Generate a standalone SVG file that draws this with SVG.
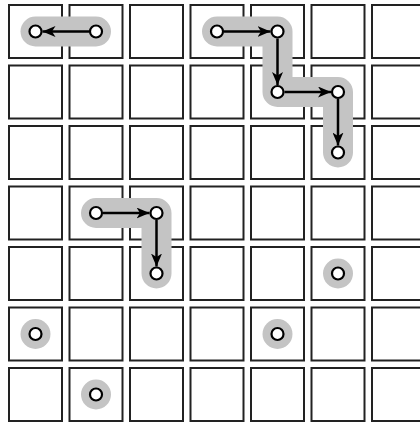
<svg xmlns="http://www.w3.org/2000/svg" width="420" height="426" viewBox="0 0 420 426">
<defs>
<style>
.cell{fill:#fff;stroke:#222;stroke-width:2}
.halo{fill:none;stroke:#c4c4c4;stroke-width:30;stroke-linecap:round;stroke-linejoin:round}
.dot{fill:#fff;stroke:#000;stroke-width:2.2}
.edge{fill:none;stroke:#000;stroke-width:2.5;marker-end:url(#arr)}
</style>
<marker id="arr" markerUnits="userSpaceOnUse" markerWidth="13" markerHeight="11" viewBox="0 0 13 11" refX="13" refY="5.5" orient="auto">
<path d="M0,0 L13,5.5 L0,11 L3.5,5.5 z" fill="#000"/>
</marker>
</defs>
<rect width="420" height="426" fill="#fff"/>
<g id="grid">
<rect class="cell" x="9" y="5" width="53" height="53"/><rect class="cell" x="69.5" y="5" width="53" height="53"/><rect class="cell" x="130" y="5" width="53" height="53"/><rect class="cell" x="190.5" y="5" width="53" height="53"/><rect class="cell" x="251" y="5" width="53" height="53"/><rect class="cell" x="311.5" y="5" width="53" height="53"/><rect class="cell" x="372" y="5" width="53" height="53"/>
<rect class="cell" x="9" y="65.5" width="53" height="53"/><rect class="cell" x="69.5" y="65.5" width="53" height="53"/><rect class="cell" x="130" y="65.5" width="53" height="53"/><rect class="cell" x="190.5" y="65.5" width="53" height="53"/><rect class="cell" x="251" y="65.5" width="53" height="53"/><rect class="cell" x="311.5" y="65.5" width="53" height="53"/><rect class="cell" x="372" y="65.5" width="53" height="53"/>
<rect class="cell" x="9" y="126" width="53" height="53"/><rect class="cell" x="69.5" y="126" width="53" height="53"/><rect class="cell" x="130" y="126" width="53" height="53"/><rect class="cell" x="190.5" y="126" width="53" height="53"/><rect class="cell" x="251" y="126" width="53" height="53"/><rect class="cell" x="311.5" y="126" width="53" height="53"/><rect class="cell" x="372" y="126" width="53" height="53"/>
<rect class="cell" x="9" y="186.5" width="53" height="53"/><rect class="cell" x="69.5" y="186.5" width="53" height="53"/><rect class="cell" x="130" y="186.5" width="53" height="53"/><rect class="cell" x="190.5" y="186.5" width="53" height="53"/><rect class="cell" x="251" y="186.5" width="53" height="53"/><rect class="cell" x="311.5" y="186.5" width="53" height="53"/><rect class="cell" x="372" y="186.5" width="53" height="53"/>
<rect class="cell" x="9" y="247" width="53" height="53"/><rect class="cell" x="69.5" y="247" width="53" height="53"/><rect class="cell" x="130" y="247" width="53" height="53"/><rect class="cell" x="190.5" y="247" width="53" height="53"/><rect class="cell" x="251" y="247" width="53" height="53"/><rect class="cell" x="311.5" y="247" width="53" height="53"/><rect class="cell" x="372" y="247" width="53" height="53"/>
<rect class="cell" x="9" y="307.5" width="53" height="53"/><rect class="cell" x="69.5" y="307.5" width="53" height="53"/><rect class="cell" x="130" y="307.5" width="53" height="53"/><rect class="cell" x="190.5" y="307.5" width="53" height="53"/><rect class="cell" x="251" y="307.5" width="53" height="53"/><rect class="cell" x="311.5" y="307.5" width="53" height="53"/><rect class="cell" x="372" y="307.5" width="53" height="53"/>
<rect class="cell" x="9" y="368" width="53" height="53"/><rect class="cell" x="69.5" y="368" width="53" height="53"/><rect class="cell" x="130" y="368" width="53" height="53"/><rect class="cell" x="190.5" y="368" width="53" height="53"/><rect class="cell" x="251" y="368" width="53" height="53"/><rect class="cell" x="311.5" y="368" width="53" height="53"/><rect class="cell" x="372" y="368" width="53" height="53"/>
</g>
<g id="highlights">
<polyline class="halo" points="35.5,31.5 96,31.5"/>
<polyline class="halo" points="217,31.5 277.5,31.5 277.5,92 338,92 338,152.5"/>
<polyline class="halo" points="96,213 156.5,213 156.5,273.5"/>
<polyline class="halo" points="338,273.5 338,273.5"/>
<polyline class="halo" points="35.5,334 35.5,334"/>
<polyline class="halo" points="277.5,334 277.5,334"/>
<polyline class="halo" points="96,394.5 96,394.5"/>
</g>
<g id="connectors">
<line class="edge" x1="89" y1="31.5" x2="42.5" y2="31.5"/>
<line class="edge" x1="224" y1="31.5" x2="270.5" y2="31.5"/>
<line class="edge" x1="277.5" y1="38.5" x2="277.5" y2="85"/>
<line class="edge" x1="284.5" y1="92" x2="331" y2="92"/>
<line class="edge" x1="338" y1="99" x2="338" y2="145.5"/>
<line class="edge" x1="103" y1="213" x2="149.5" y2="213"/>
<line class="edge" x1="156.5" y1="220" x2="156.5" y2="266.5"/>
</g>
<g id="n1"><circle class="dot" cx="35.5" cy="31.5" r="6"/></g>
<g id="n2"><circle class="dot" cx="96" cy="31.5" r="6"/></g>
<g id="n3"><circle class="dot" cx="217" cy="31.5" r="6"/></g>
<g id="n4"><circle class="dot" cx="277.5" cy="31.5" r="6"/></g>
<g id="n5"><circle class="dot" cx="277.5" cy="92" r="6"/></g>
<g id="n6"><circle class="dot" cx="338" cy="92" r="6"/></g>
<g id="n7"><circle class="dot" cx="338" cy="152.5" r="6"/></g>
<g id="n8"><circle class="dot" cx="96" cy="213" r="6"/></g>
<g id="n9"><circle class="dot" cx="156.5" cy="213" r="6"/></g>
<g id="n10"><circle class="dot" cx="156.5" cy="273.5" r="6"/></g>
<g id="n11"><circle class="dot" cx="338" cy="273.5" r="6"/></g>
<g id="n12"><circle class="dot" cx="35.5" cy="334" r="6"/></g>
<g id="n13"><circle class="dot" cx="277.5" cy="334" r="6"/></g>
<g id="n14"><circle class="dot" cx="96" cy="394.5" r="6"/></g>
</svg>
